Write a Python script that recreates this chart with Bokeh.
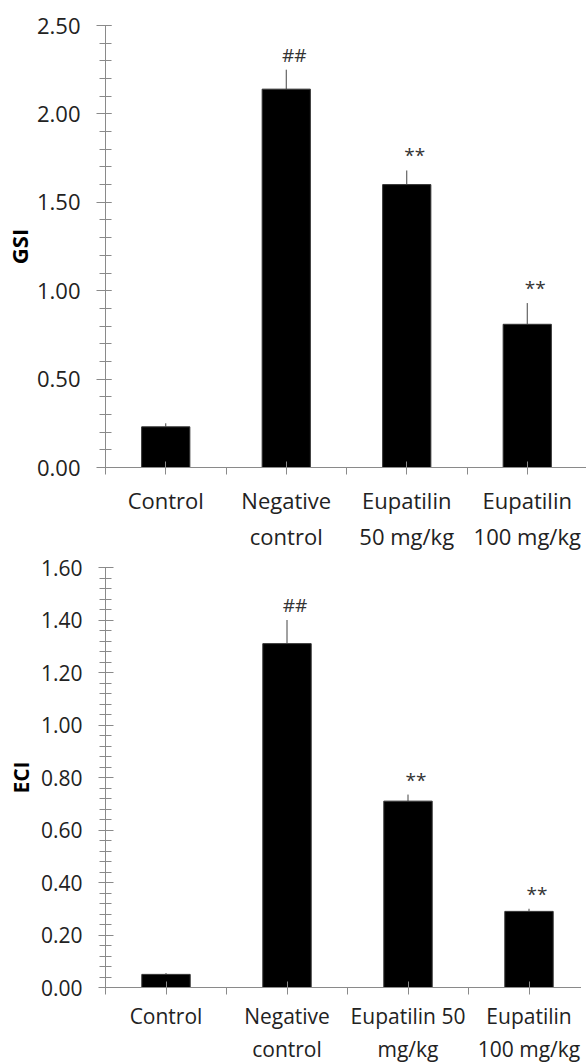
from bokeh.plotting import figure
from bokeh.models import Range1d, FixedTicker, SingleIntervalTicker, NumeralTickFormatter, ColumnDataSource
from bokeh.layouts import column
from bokeh.embed import file_html
from bokeh.resources import INLINE
from bokeh.core.properties import value

groups_top = ["Control", "Negative\ncontrol", "Eupatilin\n50 mg/kg", "Eupatilin\n100 mg/kg"]
groups_bottom = ["Control", "Negative\ncontrol", "Eupatilin 50\nmg/kg", "Eupatilin\n100 mg/kg"]
gsi_mean = [0.23, 2.14, 1.60, 0.81]
gsi_err = [0.02, 0.11, 0.08, 0.12]
gsi_marks = ["", "##", "**", "**"]
eci_mean = [0.05, 1.31, 0.71, 0.29]
eci_err = [0.005, 0.09, 0.025, 0.01]
eci_marks = ["", "##", "**", "**"]

FONT = "Open Sans"
AX = "#8a8a8a"
TXT = "#222222"


def make(labels, means, errs, marks, ymax, major, ylabel, fs, lfs, fw, catw, fh, mbl, mbt,
         ymt_in, ymt_out, ystand, als, xstand):
    n = len(labels)
    xs = [i + 0.5 for i in range(n)]
    src = ColumnDataSource(dict(x=xs, top=means, hi=[m + e for m, e in zip(means, errs)], mark=marks))
    p = figure(frame_width=fw, frame_height=fh, output_backend="svg", toolbar_location=None,
               x_range=Range1d(0, fw / catw), y_range=Range1d(0, ymax),
               min_border_left=mbl, min_border_top=mbt, min_border_right=0, min_border_bottom=0)
    p.outline_line_color = None
    p.background_fill_color = "white"
    p.border_fill_color = "white"
    p.xgrid.visible = False
    p.ygrid.visible = False
    p.vbar(x="x", top="top", width=0.4, bottom=0, source=src, fill_color="black", line_color="#333333", line_width=1)
    p.segment(x0="x", y0="top", x1="x", y1="hi", source=src, line_color="#444444", line_width=1)
    p.text(x="x", y="hi", text="mark", source=src, text_align="center", text_baseline="bottom",
           x_offset=8, y_offset=-2, text_font=value(FONT), text_font_size="19px", text_color="#333333")

    ya = p.yaxis[0]
    ya.ticker = SingleIntervalTicker(interval=major, num_minor_ticks=5)
    ya.formatter = NumeralTickFormatter(format="0.00")
    ya.axis_line_color = AX
    ya.major_tick_line_color = AX
    ya.minor_tick_line_color = AX
    ya.major_tick_in = ymt_in
    ya.major_tick_out = ymt_out
    ya.minor_tick_in = 6
    ya.minor_tick_out = 6
    ya.major_label_standoff = ystand
    ya.major_label_text_font = FONT
    ya.major_label_text_font_size = f"{fs}px"
    ya.major_label_text_color = TXT
    ya.axis_label = ylabel
    ya.axis_label_text_font = FONT
    ya.axis_label_text_font_style = "bold"
    ya.axis_label_text_font_size = f"{lfs}px"
    ya.axis_label_text_color = "black"
    ya.axis_label_standoff = als

    xa = p.xaxis[0]
    xa.ticker = FixedTicker(ticks=xs, minor_ticks=[float(i) for i in range(n + 1)])
    xa.major_label_overrides = {x: lab for x, lab in zip(xs, labels)}
    xa.axis_line_color = AX
    xa.major_tick_line_color = AX
    xa.minor_tick_line_color = AX
    xa.major_tick_in = 6
    xa.major_tick_out = 7
    xa.minor_tick_in = 0
    xa.minor_tick_out = 7
    xa.major_label_standoff = xstand
    xa.major_label_text_font = FONT
    xa.major_label_text_font_size = f"{fs}px"
    xa.major_label_text_color = TXT
    xa.major_label_text_align = "center"
    return p


p1 = make(groups_top, gsi_mean, gsi_err, gsi_marks, 2.5, 0.5, "GSI", 22, 22, 482, 120.5, 442, 96, 25,
          6, 9, 16, 0, 10)
p2 = make(groups_bottom, eci_mean, eci_err, eci_marks, 1.6, 0.2, "ECI", 21, 21, 479, 121.0, 420, 99, 14,
          8, 7, 16, 3, 7)

layout = column(p1, p2, spacing=0)
open("out.html", "w").write(file_html(layout, INLINE))
